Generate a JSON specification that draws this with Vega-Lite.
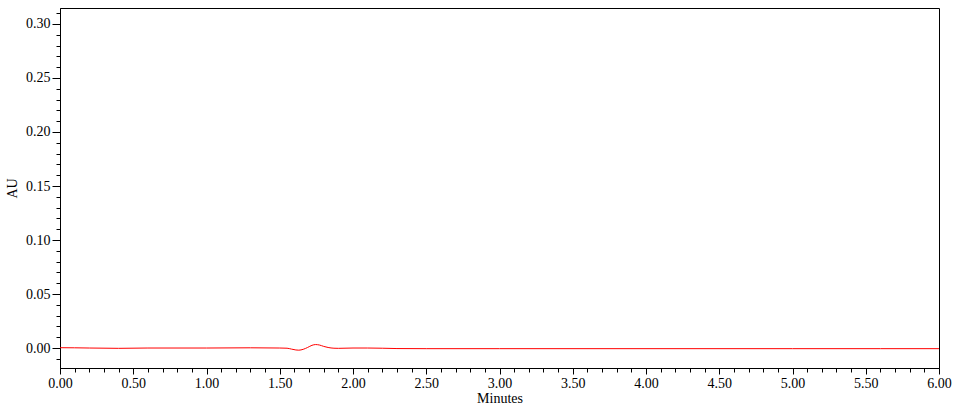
{
  "$schema": "https://vega.github.io/schema/vega-lite/v6.json",
  "width": 879,
  "height": 360,
  "autosize": {"type": "none"},
  "padding": {"left": 60, "top": 8, "right": 23, "bottom": 40},
  "background": "white",
  "config": {
    "view": {"stroke": "black", "strokeWidth": 1},
    "axis": {
      "grid": false,
      "domainColor": "black",
      "tickColor": "black",
      "labelColor": "black",
      "labelFont": "Liberation Serif",
      "labelFontSize": 14,
      "labelFlush": false,
      "labelOverlap": false,
      "titleFont": "Liberation Serif",
      "titleFontSize": 14,
      "titleFontWeight": "normal",
      "titleColor": "black"
    }
  },
  "data": {
    "values": [
      {"t": 0.00, "au": 0.0003},
      {"t": 0.10, "au": 0.0002},
      {"t": 0.20, "au": 0.0000},
      {"t": 0.40, "au": -0.0003},
      {"t": 0.60, "au": 0.0000},
      {"t": 1.00, "au": 0.0000},
      {"t": 1.30, "au": 0.0002},
      {"t": 1.50, "au": 0.0000},
      {"t": 1.55, "au": -0.0002},
      {"t": 1.58, "au": -0.0010},
      {"t": 1.61, "au": -0.0018},
      {"t": 1.63, "au": -0.0020},
      {"t": 1.66, "au": -0.0012},
      {"t": 1.69, "au": 0.0005},
      {"t": 1.72, "au": 0.0025},
      {"t": 1.745, "au": 0.0032},
      {"t": 1.77, "au": 0.0028},
      {"t": 1.80, "au": 0.0015},
      {"t": 1.83, "au": 0.0005},
      {"t": 1.87, "au": -0.0002},
      {"t": 1.90, "au": -0.0003},
      {"t": 2.00, "au": 0.0000},
      {"t": 2.10, "au": 0.0000},
      {"t": 2.20, "au": -0.0002},
      {"t": 2.30, "au": -0.0005},
      {"t": 2.50, "au": -0.0006},
      {"t": 3.00, "au": -0.0006},
      {"t": 4.00, "au": -0.0006},
      {"t": 5.00, "au": -0.0006},
      {"t": 5.60, "au": -0.0006},
      {"t": 6.00, "au": -0.0006}
    ]
  },
  "layer": [
    {
      "mark": {"type": "line", "color": "#ff0000", "strokeWidth": 1, "interpolate": "monotone", "clip": true},
      "encoding": {
        "x": {
          "field": "t", "type": "quantitative",
          "scale": {"domain": [0, 6], "nice": false, "zero": false},
          "axis": {
            "orient": "bottom",
            "title": "Minutes",
            "titlePadding": 1,
            "values": [0, 0.5, 1, 1.5, 2, 2.5, 3, 3.5, 4, 4.5, 5, 5.5, 6],
            "format": ".2f",
            "tickSize": 6,
            "labelPadding": 2
          }
        },
        "y": {
          "field": "au", "type": "quantitative",
          "scale": {"domain": [-0.0185, 0.3148], "nice": false, "zero": false},
          "axis": {
            "orient": "left",
            "title": "AU",
            "titlePadding": 6,
            "values": [0, 0.05, 0.1, 0.15, 0.2, 0.25, 0.3],
            "format": ".2f",
            "tickSize": 8,
            "labelPadding": 2
          }
        }
      }
    },
    {
      "mark": {"type": "point", "opacity": 0},
      "encoding": {
        "x": {
          "field": "t", "type": "quantitative",
          "axis": {
            "orient": "bottom",
            "title": null,
            "labels": false,
            "domain": false,
            "tickSize": 4,
            "values": [0.1, 0.2, 0.3, 0.4, 0.6, 0.7, 0.8, 0.9, 1.1, 1.2, 1.3, 1.4, 1.6, 1.7, 1.8, 1.9, 2.1, 2.2, 2.3, 2.4, 2.6, 2.7, 2.8, 2.9, 3.1, 3.2, 3.3, 3.4, 3.6, 3.7, 3.8, 3.9, 4.1, 4.2, 4.3, 4.4, 4.6, 4.7, 4.8, 4.9, 5.1, 5.2, 5.3, 5.4, 5.6, 5.7, 5.8, 5.9]
          }
        },
        "y": {
          "field": "au", "type": "quantitative",
          "axis": {
            "orient": "left",
            "title": null,
            "labels": false,
            "domain": false,
            "tickSize": 4,
            "values": [-0.01, 0.01, 0.02, 0.03, 0.04, 0.06, 0.07, 0.08, 0.09, 0.11, 0.12, 0.13, 0.14, 0.16, 0.17, 0.18, 0.19, 0.21, 0.22, 0.23, 0.24, 0.26, 0.27, 0.28, 0.29, 0.31]
          }
        }
      }
    }
  ],
  "resolve": {"axis": {"x": "independent", "y": "independent"}}
}
